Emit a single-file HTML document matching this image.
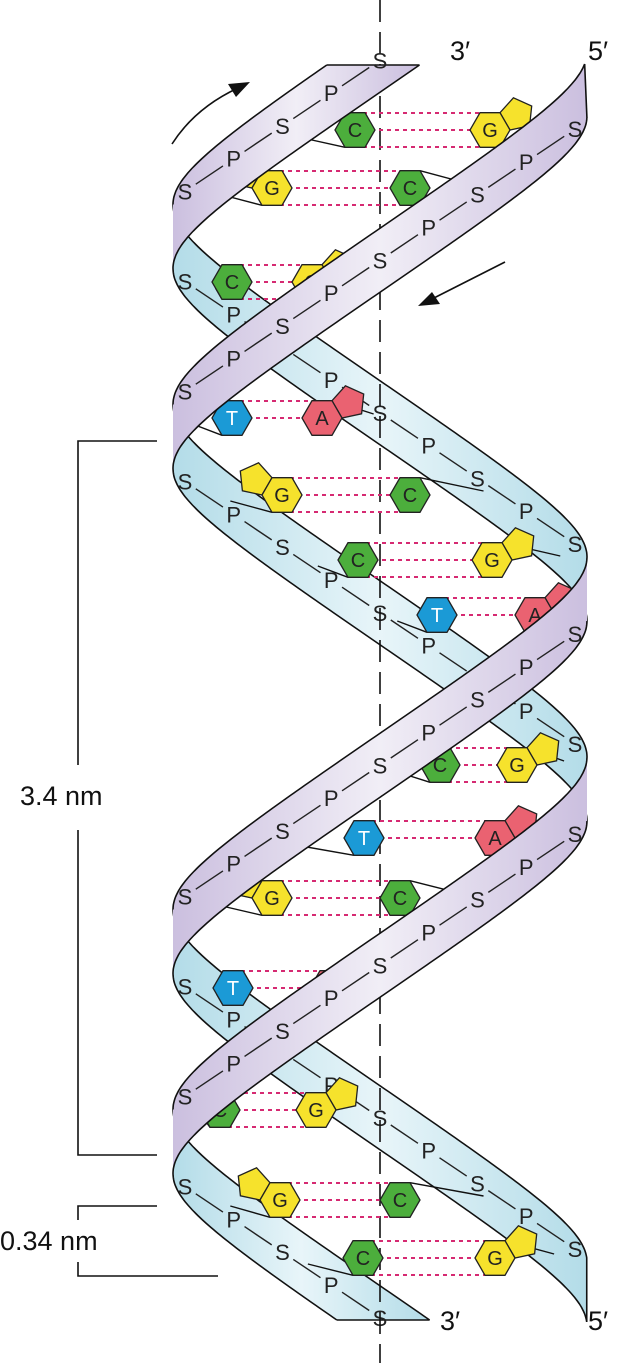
<!DOCTYPE html>
<html><head><meta charset="utf-8"><style>
html,body{margin:0;padding:0;background:#fff;}
svg{display:block;font-family:"Liberation Sans",Arial,sans-serif;}
</style></head><body>
<svg id="s" xmlns="http://www.w3.org/2000/svg" width="629" height="1363" viewBox="0 0 629 1363">
<defs>
<linearGradient id="gp" x1="0" y1="0" x2="1" y2="0">
<stop offset="0" stop-color="#cbbfdf"/><stop offset="0.5" stop-color="#f1eef6"/><stop offset="1" stop-color="#cbbfdf"/></linearGradient>
<linearGradient id="gb" x1="0" y1="0" x2="1" y2="0">
<stop offset="0" stop-color="#b3dce8"/><stop offset="0.5" stop-color="#e8f5f9"/><stop offset="1" stop-color="#b3dce8"/></linearGradient>
</defs>
<rect width="629" height="1363" fill="#fff"/>
<g id="back"></g>
<g id="backL"></g>
<line x1="380" y1="0" x2="380" y2="1363" stroke="#111" stroke-width="1.6" stroke-dasharray="22 10"/>
<g id="bases"></g>
<g id="front"></g>
<g id="frontL"></g>
<g fill="#111" font-size="27">
<text x="450" y="60">3′</text><text x="588" y="60">5′</text>
<text x="440" y="1330">3′</text><text x="588" y="1330">5′</text>
</g>
<g font-size="27" fill="#111"><text x="20" y="805">3.4 nm</text><text x="0" y="1250">0.34 nm</text></g>
<g stroke="#111" stroke-width="1.6" fill="none">
<path d="M157,441 H78 V765 M78,830 V1155 H157"/>
<path d="M157,1206 H78 V1220 M78,1262 V1276 H218"/>
<path d="M172,144 Q195,108 238,88"/>
<path d="M505,262 L430,300"/>
</g>
<polygon points="250,82 228,84 236,97" fill="#111"/>
<polygon points="418,306 440,304 432,292" fill="#111"/>
</svg>
<script>
(function(){
var NS="http://www.w3.org/2000/svg";
function el(t,a,p){var e=document.createElementNS(NS,t);for(var k in a)e.setAttribute(k,a[k]);p.appendChild(e);return e;}
var P=705,CX=380,R=207,A=0.92,H=64,AS=Math.asin(A);
function X(yc,yR){var f=2*Math.PI*(yc-yR)/P;return CX+R*Math.asin(A*Math.cos(f))/AS;}
var back=document.getElementById('back'),front=document.getElementById('front'),
backL=document.getElementById('backL'),frontL=document.getElementById('frontL'),bases=document.getElementById('bases');
var strands=[
 {yR:84,tS:96,bS:86,tE:1352,bE:1288},
 {yR:589,tS:97,bS:33,tE:1290,bE:1290}
];
function pts(a){return a.map(function(p){return p[0].toFixed(1)+','+p[1].toFixed(1);}).join(' ');}
strands.forEach(function(s){
 var ymin=Math.min(s.tS,s.bS),ymax=Math.max(s.tE,s.bE),half=P/2;
 var k0=Math.floor((ymin-s.yR)/half),k1=Math.floor((ymax-s.yR)/half);
 for(var k=k0;k<=k1;k++){
  var a=s.yR+k*half,b=a+half;
  var isF=(((k%2)+2)%2)==0;
  var layer=isF?front:back;
  var top=[],bot=[];
  var t0=Math.max(a,s.tS),t1=Math.min(b,s.tE);
  for(var y=t0;y<=t1;y+=2)top.push([X(y,s.yR),y-H/2]);
  if(t1>t0)top.push([X(t1,s.yR),t1-H/2]);
  var b0=Math.max(a,s.bS),b1=Math.min(b,s.bE);
  for(var y=b0;y<=b1;y+=2)bot.push([X(y,s.yR),y+H/2]);
  if(b1>b0)bot.push([X(b1,s.yR),b1+H/2]);
  if(top.length<2&&bot.length<2)continue;
  var poly=top.concat(bot.slice().reverse());
  el('polygon',{points:pts(poly),fill:isF?'url(#gp)':'url(#gb)',stroke:'none'},layer);
  if(top.length>1)el('polyline',{points:pts(top),fill:'none',stroke:'#111','stroke-width':1.6},layer);
  if(bot.length>1)el('polyline',{points:pts(bot),fill:'none',stroke:'#111','stroke-width':1.6},layer);
  if(s.tS>=a&&s.tS<=b)el('line',{x1:X(s.tS,s.yR),y1:s.tS-H/2,x2:X(s.bS,s.yR),y2:s.bS+H/2,stroke:'#111','stroke-width':1.6},layer);
  if(s.tE>=a&&s.tE<=b)el('line',{x1:X(s.tE,s.yR),y1:s.tE-H/2,x2:X(s.bE,s.yR),y2:s.bE+H/2,stroke:'#111','stroke-width':1.6},layer);
  var L=isF?frontL:backL,prev=null;
  for(var j=0;j<=8;j++){
   var phi=23+16.75*j;
   var yc=a+phi/180*half;
   if(yc<ymin+8||yc>ymax-8){prev=null;continue;}
   var x=isF?575-48.75*j:185+48.75*j;
   var t=el('text',{x:x,y:yc+8,'text-anchor':'middle','font-size':22,fill:'#222'},L);
   t.textContent=(j%2==0)?'S':'P';
   if(prev){var dx=x-prev[0],dy=yc-prev[1],d=Math.sqrt(dx*dx+dy*dy),u=13/d;
    el('line',{x1:prev[0]+dx*u,y1:prev[1]+dy*u,x2:x-dx*u,y2:yc-dy*u,stroke:'#222','stroke-width':1.4},L);}
   prev=[x,yc];
  }
 }
});
var col={C:'#4cae3c',G:'#f6e22c',T:'#1b9ad6',A:'#ea6271'};
var rows=[
 [130,'C',355,'','G',490,'R'],[188,'G',272,'L','C',410,''],[282,'C',232,'','G',312,'R'],
 [418,'T',232,'','A',322,'R'],[495,'G',282,'L','C',410,''],[560,'C',358,'','G',492,'R'],
 [615,'T',437,'','A',535,'R'],[765,'C',440,'','G',517,'R'],[838,'T',364,'','A',495,'R'],
 [898,'G',272,'L','C',400,''],[988,'T',233,'','A',330,'R'],[1110,'C',220,'','G',316,'R'],
 [1200,'G',280,'L','C',400,''],[1258,'C',363,'','G',495,'R']
];
var r=20,h=r*0.866;
function hexPts(cx,cy){return [[cx-r,cy],[cx-r/2,cy-h],[cx+r/2,cy-h],[cx+r,cy],[cx+r/2,cy+h],[cx-r/2,cy+h]];}
function pent(p1,p2,cx,cy){
 var mx=(p1[0]+p2[0])/2,my=(p1[1]+p2[1])/2,dx=p2[0]-p1[0],dy=p2[1]-p1[1],L=Math.sqrt(dx*dx+dy*dy);
 var nx=-dy/L,ny=dx/L; if((mx-cx)*nx+(my-cy)*ny<0){nx=-nx;ny=-ny;}
 var ux=dx/L,uy=dy/L,s=L;
 var a=s*0.951, c=s*1.539;
 var q1=[p2[0]+nx*a+ux*0.309*s,p2[1]+ny*a+uy*0.309*s];
 var top=[mx+nx*c,my+ny*c];
 var q2=[p1[0]+nx*a-ux*0.309*s,p1[1]+ny*a-uy*0.309*s];
 return [p1,p2,q1,top,q2];
}
function strandXs(y){return [X(y,84),X(y,589)];}
rows.forEach(function(rw){
 var y=rw[0],lx=rw[2],rx=rw[5],gc=(rw[1]=='C'||rw[1]=='G');
 var ys=gc?[y-17,y,y+17]:[y-17,y];
 ys.forEach(function(yy){el('line',{x1:lx,y1:yy,x2:rx,y2:yy,stroke:'#d62a72','stroke-width':2,'stroke-dasharray':'4 4'},bases);});
 var xs=strandXs(y),xl=Math.min(xs[0],xs[1]),xr=Math.max(xs[0],xs[1]);
 el('line',{x1:lx-r/2,y1:y+h,x2:xl+14,y2:y+6,stroke:'#111','stroke-width':1.4},bases);
 el('line',{x1:rx+r/2,y1:y-h,x2:xr-14,y2:y-4,stroke:'#111','stroke-width':1.4},bases);
 [[rw[1],lx,rw[3]],[rw[4],rx,rw[6]]].forEach(function(b){
  var t=b[0],cx=b[1],hp=hexPts(cx,y);
  if(b[2]){var pe=b[2]=='R'?pent(hp[2],hp[3],cx,y):pent(hp[0],hp[1],cx,y);
   el('polygon',{points:pts(pe),fill:col[t],stroke:'#222','stroke-width':1.3},bases);}
  el('polygon',{points:pts(hp),fill:col[t],stroke:'#222','stroke-width':1.3},bases);
  var tx=el('text',{x:cx,y:y+7,'text-anchor':'middle','font-size':20,fill:t=='T'?'#fff':'#222'},bases);
  tx.textContent=t;
 });
});
})();
</script>
</body></html>
